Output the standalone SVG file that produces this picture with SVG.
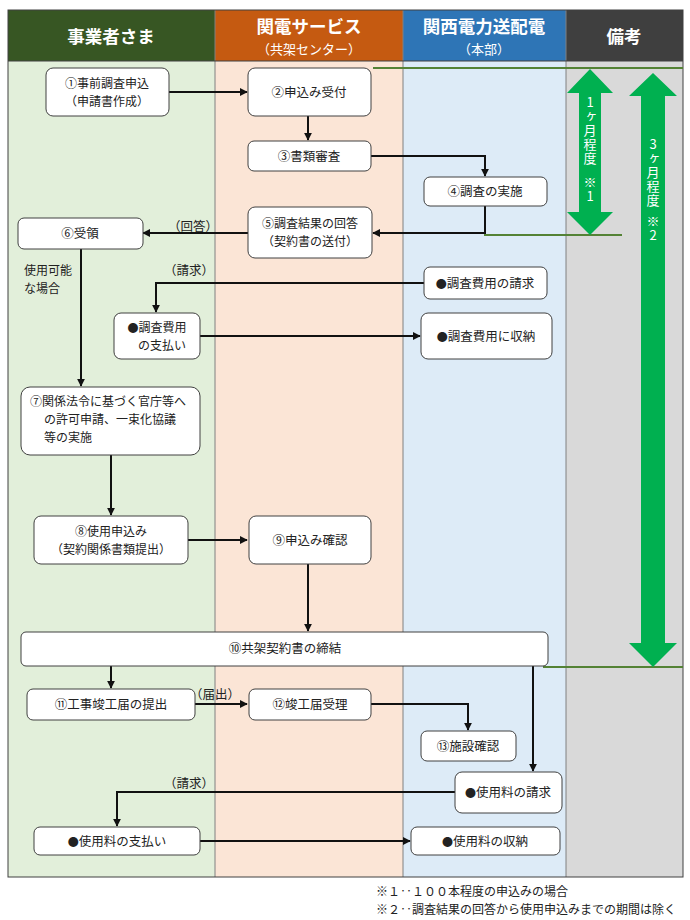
<svg xmlns="http://www.w3.org/2000/svg" width="690" height="920" viewBox="0 0 690 920">
<defs>
<style>
text{font-family:"Noto Sans CJK JP","Noto Sans",sans-serif;fill:#222;}
.h{fill:#fff;font-weight:bold;font-size:17.5px;text-anchor:middle;}
.hs{fill:#fff;font-size:13px;text-anchor:middle;}
.n rect{fill:#fff;stroke:#404040;stroke-width:1;}
.n text{font-size:12.5px;text-anchor:middle;}
.n text.m{font-size:12px;}
.c path{fill:none;stroke:#111;stroke-width:2;}
.lbl{font-size:12.5px;text-anchor:middle;}
.gl{stroke:#548235;stroke-width:2;}
.v{fill:#fff;font-size:13px;writing-mode:vertical-rl;text-orientation:upright;letter-spacing:1px;}
.sep{stroke:#808080;stroke-width:1;}
.b{font-size:11px;}
</style>
<marker id="ah" viewBox="0 0 10 10" refX="9" refY="5" markerWidth="4" markerHeight="4" orient="auto" markerUnits="strokeWidth">
<path d="M0,0 L10,5 L0,10 z" fill="#111"/>
</marker>
</defs>

<g id="lanes">
<rect x="8" y="61" width="207" height="816" fill="#E2EFDA"/>
<rect x="215" y="61" width="188" height="816" fill="#FBE5D6"/>
<rect x="403" y="61" width="163" height="816" fill="#DDEBF7"/>
<rect x="566" y="61" width="117" height="816" fill="#D9D9D9"/>
<rect x="8" y="10" width="207" height="51" fill="#375623"/>
<rect x="215" y="10" width="188" height="51" fill="#C55A11"/>
<rect x="403" y="10" width="163" height="51" fill="#2E75B6"/>
<rect x="566" y="10" width="117" height="51" fill="#3F3F3F"/>
<line class="sep" x1="215" y1="10" x2="215" y2="877"/>
<line class="sep" x1="403" y1="10" x2="403" y2="877"/>
<line class="sep" x1="566" y1="10" x2="566" y2="877" stroke="#404040"/>
<line x1="8" y1="61" x2="683" y2="61" stroke="#404040" stroke-width="1"/>
<rect x="8" y="10" width="675" height="867" fill="none" stroke="#404040" stroke-width="1"/>
<text class="h" x="111" y="43">事業者さま</text>
<text class="h" x="309" y="33">関電サービス<tspan class="hs" x="309" dy="21" style="font-weight:normal">（共架センター）</tspan></text>
<text class="h" x="484" y="33">関西電力送配電<tspan class="hs" x="484" dy="21" style="font-weight:normal">（本部）</tspan></text>
<text class="h" x="624" y="43">備考</text>
</g>

<g id="period-markers">
<line class="gl" x1="373" y1="68" x2="683" y2="68"/>
<line class="gl" x1="484" y1="235" x2="622" y2="235"/>
<line class="gl" x1="543" y1="667" x2="683" y2="667"/>
<polygon fill="#00B050" points="590,69 613,93 601,93 601,212 613,212 590,235 567,212 579,212 579,93 567,93"/>
<polygon fill="#00B050" points="653,73 677,96 665,96 665,643 677,643 653,667 629,643 641,643 641,96 629,96"/>
<text class="v" x="590" y="96">1ヶ月程度</text>
<text class="v" x="590" y="176">※1</text>
<text class="v" x="653" y="138">3ヶ月程度</text>
<text class="v" x="653" y="215">※2</text>
</g>

<g id="connectors" class="c">
<path d="M168,92 H247" marker-end="url(#ah)"/>
<path d="M308,116 V140" marker-end="url(#ah)"/>
<path d="M370,156 H485 V176" marker-end="url(#ah)"/>
<path d="M485,206 V233 H373" marker-end="url(#ah)"/>
<path d="M248,233 H143" marker-end="url(#ah)"/>
<path d="M81,249 V386" marker-end="url(#ah)"/>
<path d="M425,283 H156 V312" marker-end="url(#ah)"/>
<path d="M200,336 H420" marker-end="url(#ah)"/>
<path d="M111,455 V515" marker-end="url(#ah)"/>
<path d="M188,540 H247" marker-end="url(#ah)"/>
<path d="M308,564 V631" marker-end="url(#ah)"/>
<path d="M111,666 V688" marker-end="url(#ah)"/>
<path d="M533,666 V771" marker-end="url(#ah)"/>
<path d="M195,704 H247" marker-end="url(#ah)"/>
<path d="M371,704 H468 V730" marker-end="url(#ah)"/>
<path d="M455,792 H117 V826" marker-end="url(#ah)"/>
<path d="M200,841 H410" marker-end="url(#ah)"/>
<text class="lbl" x="193" y="231">（回答）</text>
<text class="lbl" x="189" y="275">（請求）</text>
<text class="lbl" x="215" y="699">（届出）</text>
<text class="lbl" x="189" y="788">（請求）</text>
<text x="24" y="275" style="font-size:12px">使用可能<tspan x="24" dy="18">な場合</tspan></text>
</g>

<g id="n1" class="n"><rect x="46" y="68" width="123" height="48" rx="7"/><text class="m" x="107" y="88">①事前調査申込<tspan x="107" dy="18">（申請書作成）</tspan></text></g>
<g id="n2" class="n"><rect x="248" y="68" width="123" height="48" rx="7"/><text x="309" y="97">②申込み受付</text></g>
<g id="n3" class="n"><rect x="248" y="141" width="123" height="30" rx="6"/><text x="309" y="161">③書類審査</text></g>
<g id="n4" class="n"><rect x="424" y="177" width="123" height="29" rx="6"/><text x="485" y="196">④調査の実施</text></g>
<g id="n5" class="n"><rect x="248" y="207" width="124" height="51" rx="7"/><text class="m" x="310" y="228">⑤調査結果の回答<tspan x="310" dy="18">（契約書の送付）</tspan></text></g>
<g id="n6" class="n"><rect x="18" y="218" width="125" height="31" rx="6"/><text x="80" y="238">⑥受領</text></g>
<g id="n-bill1" class="n"><rect x="424" y="267" width="123" height="32" rx="6"/><text x="485" y="288"><tspan class="b">●</tspan>調査費用の請求</text></g>
<g id="n-pay1" class="n"><rect x="114" y="313" width="86" height="46" rx="7"/><text class="m" x="157" y="332"><tspan class="b">●</tspan>調査費用<tspan x="162" dy="18">の支払い</tspan></text></g>
<g id="n-recv1" class="n"><rect x="421" y="313" width="131" height="46" rx="7"/><text x="486" y="341"><tspan class="b">●</tspan>調査費用に収納</text></g>
<g id="n7" class="n"><rect x="21" y="387" width="179" height="68" rx="9"/><text class="m" x="108" y="406">⑦関係法令に基づく官庁等へ<tspan x="44" dy="18" style="text-anchor:start">の許可申請、一束化協議</tspan><tspan x="44" dy="18" style="text-anchor:start">等の実施</tspan></text></g>
<g id="n8" class="n"><rect x="34" y="516" width="154" height="48" rx="7"/><text class="m" x="111" y="536">⑧使用申込み<tspan x="111" dy="18">（契約関係書類提出）</tspan></text></g>
<g id="n9" class="n"><rect x="249" y="516" width="122" height="48" rx="7"/><text x="310" y="545">⑨申込み確認</text></g>
<g id="n10" class="n"><rect x="21" y="632" width="527" height="34" rx="5"/><text x="285" y="653">⑩共架契約書の締結</text></g>
<g id="n11" class="n"><rect x="27" y="689" width="168" height="31" rx="6"/><text x="111" y="709">⑪工事竣工届の提出</text></g>
<g id="n12" class="n"><rect x="249" y="689" width="122" height="31" rx="6"/><text x="310" y="709">⑫竣工届受理</text></g>
<g id="n13" class="n"><rect x="421" y="731" width="95" height="30" rx="6"/><text x="468" y="751">⑬施設確認</text></g>
<g id="n-bill2" class="n"><rect x="455" y="772" width="107" height="41" rx="7"/><text x="508" y="797"><tspan class="b">●</tspan>使用料の請求</text></g>
<g id="n-pay2" class="n"><rect x="34" y="827" width="166" height="28" rx="6"/><text x="117" y="846"><tspan class="b">●</tspan>使用料の支払い</text></g>
<g id="n-recv2" class="n"><rect x="411" y="827" width="149" height="28" rx="6"/><text x="485" y="846"><tspan class="b">●</tspan>使用料の収納</text></g>

<g id="notes">
<text x="376" y="896" style="font-size:12px">※１‥１００本程度の申込みの場合<tspan x="376" dy="18">※２‥調査結果の回答から使用申込みまでの期間は除く</tspan></text>
</g>
</svg>
